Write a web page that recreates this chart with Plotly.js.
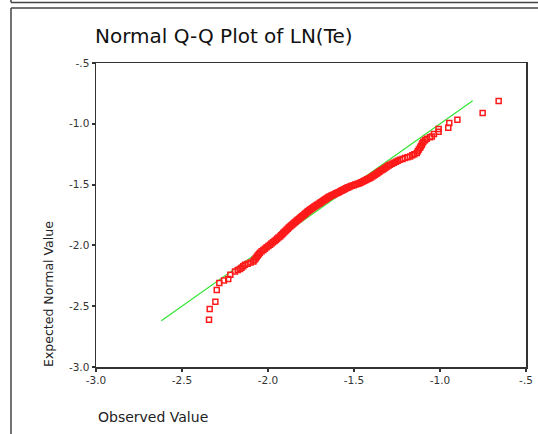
<!DOCTYPE html>
<html>
<head>
<meta charset="utf-8">
<script src="https://cdn.plot.ly/plotly-3.0.1.min.js"></script>
<style>
  html, body { margin: 0; padding: 0; background: #ffffff; }
  #chart { width: 538px; height: 434px; }
</style>
</head>
<body>
<div id="chart"></div>
<script>
// Observed values of LN(Te) (x) and their expected normal values (y)
const observed = [
  -2.343, -2.339, -2.306, -2.298, -2.283, -2.256, -2.231, -2.219,
  -2.192, -2.176, -2.163, -2.154, -2.144, -2.134, -2.118, -2.101, -2.085, -2.079,
  -2.072, -2.066, -2.060, -2.053, -2.047, -2.037, -2.027, -2.018, -2.008, -1.998,
  -1.988, -1.980, -1.971, -1.962, -1.954, -1.947, -1.939, -1.930, -1.924, -1.917,
  -1.911, -1.905, -1.898, -1.892, -1.885, -1.879, -1.872, -1.865, -1.858, -1.852,
  -1.845, -1.838, -1.832, -1.826, -1.820, -1.814, -1.808, -1.802, -1.796, -1.790,
  -1.785, -1.779, -1.773, -1.767, -1.761, -1.756, -1.750, -1.743, -1.737, -1.731,
  -1.724, -1.718, -1.712, -1.704, -1.698, -1.692, -1.685, -1.679, -1.672, -1.666,
  -1.659, -1.653, -1.647, -1.640, -1.633, -1.625, -1.618, -1.610, -1.603, -1.596,
  -1.589, -1.581, -1.574, -1.567, -1.560, -1.553, -1.546, -1.539, -1.532, -1.523,
  -1.513, -1.502, -1.492, -1.482, -1.473, -1.465, -1.457, -1.448, -1.440, -1.431,
  -1.423, -1.416, -1.407, -1.400, -1.392, -1.385, -1.378, -1.370, -1.363, -1.355,
  -1.349, -1.341, -1.332, -1.324, -1.316, -1.307, -1.299, -1.291, -1.279, -1.268,
  -1.256, -1.245, -1.233, -1.218, -1.204, -1.189, -1.174, -1.161, -1.149, -1.135,
  -1.129, -1.123, -1.116, -1.111, -1.106, -1.102, -1.097, -1.087, -1.077,
  -1.058, -1.047, -1.035, -1.008, -1.008, -0.952, -0.946, -0.899, -0.752, -0.659
];
const expected = [
  -2.611, -2.523, -2.463, -2.367, -2.309, -2.288, -2.276, -2.241,
  -2.214, -2.203, -2.194, -2.183, -2.171, -2.159, -2.150, -2.141, -2.132, -2.120,
  -2.108, -2.096, -2.084, -2.072, -2.060, -2.049, -2.038, -2.027, -2.016, -2.005,
  -1.994, -1.984, -1.974, -1.964, -1.955, -1.946, -1.936, -1.926, -1.917, -1.908,
  -1.899, -1.890, -1.881, -1.872, -1.863, -1.853, -1.844, -1.836, -1.828, -1.820,
  -1.812, -1.804, -1.796, -1.789, -1.782, -1.775, -1.768, -1.761, -1.754, -1.747,
  -1.740, -1.733, -1.726, -1.719, -1.712, -1.706, -1.700, -1.694, -1.688, -1.682,
  -1.676, -1.670, -1.664, -1.657, -1.651, -1.645, -1.639, -1.633, -1.627, -1.621,
  -1.615, -1.609, -1.603, -1.597, -1.592, -1.587, -1.582, -1.577, -1.572, -1.567,
  -1.562, -1.556, -1.551, -1.546, -1.541, -1.536, -1.531, -1.526, -1.521, -1.515,
  -1.510, -1.505, -1.500, -1.495, -1.491, -1.487, -1.481, -1.475, -1.469, -1.463,
  -1.457, -1.452, -1.446, -1.439, -1.432, -1.425, -1.418, -1.411, -1.404, -1.397,
  -1.391, -1.383, -1.375, -1.367, -1.359, -1.351, -1.343, -1.336, -1.328, -1.320,
  -1.312, -1.304, -1.296, -1.289, -1.282, -1.275, -1.268, -1.259, -1.250, -1.240,
  -1.226, -1.212, -1.197, -1.184, -1.172, -1.160, -1.147, -1.135, -1.123,
  -1.110, -1.104, -1.084, -1.065, -1.043, -1.032, -0.993, -0.966, -0.911, -0.812
];
// Reference line (expected = observed)
const refLineX = [-2.62, -0.81];
const refLineY = [-2.62, -0.81];
// Tick labels
const tickValues = [-3.0, -2.5, -2.0, -1.5, -1.0, -0.5];
const tickLabels = ['-3.0', '-2.5', '-2.0', '-1.5', '-1.0', '-.5'];

const FONT = 'DejaVu Sans, Verdana, sans-serif';

const traces = [
  {
    x: refLineX, y: refLineY, type: 'scatter', mode: 'lines',
    line: { color: '#33e433', width: 1.2 }, hoverinfo: 'skip', showlegend: false
  },
  {
    x: observed, y: expected, type: 'scatter', mode: 'markers',
    marker: { symbol: 'square-open', size: 5, color: '#ff1a1a', line: { width: 1.5, color: '#ff1a1a' } },
    showlegend: false
  }
];

const axisCommon = {
  tickvals: tickValues, ticktext: tickLabels,
  showgrid: false, zeroline: false,
  showline: true, mirror: true, linecolor: '#333333', linewidth: 1.5,
  ticks: 'outside', ticklen: 3, tickwidth: 2, tickcolor: '#333333',
  tickfont: { family: FONT, size: 10.5, color: '#333333' },
  fixedrange: true
};

const layout = {
  width: 538, height: 434,
  paper_bgcolor: '#ffffff', plot_bgcolor: '#ffffff',
  margin: { l: 96, r: 12, t: 63, b: 67 },
  title: {
    text: 'Normal Q-Q Plot of LN(Te)',
    font: { family: FONT, size: 20, color: '#111111' },
    xref: 'container', x: 95 / 538, xanchor: 'left',
    yref: 'container', y: (434 - 36) / 434, yanchor: 'middle'
  },
  xaxis: Object.assign({}, axisCommon, { range: [-3.0, -0.5] }),
  yaxis: Object.assign({}, axisCommon, { range: [-3.0, -0.5] }),
  annotations: [
    {
      text: 'Expected Normal Value', textangle: -90,
      xref: 'paper', yref: 'paper', x: -0.109, y: -0.006,
      xanchor: 'center', yanchor: 'bottom', showarrow: false,
      font: { family: FONT, size: 12.5, color: '#222222' }
    },
    {
      text: 'Observed Value',
      xref: 'paper', yref: 'paper', x: 0.0, y: -0.1645,
      xanchor: 'left', yanchor: 'middle', showarrow: false,
      font: { family: FONT, size: 14, color: '#222222' }
    }
  ],
  shapes: [
    { type: 'line', xref: 'paper', yref: 'paper', x0: -0.1977, x1: 1.04, y0: 1.199, y1: 1.199, line: { color: '#444444', width: 1.5 } },
    { type: 'line', xref: 'paper', yref: 'paper', x0: -0.1977, x1: -0.1977, y0: 1.21, y1: 1.199, line: { color: '#444444', width: 1.5 } },
    { type: 'line', xref: 'paper', yref: 'paper', x0: -0.1977, x1: 1.04, y0: 1.181, y1: 1.181, line: { color: '#444444', width: 1.5 } },
    { type: 'line', xref: 'paper', yref: 'paper', x0: -0.1977, x1: -0.1977, y0: 1.181, y1: -0.23, line: { color: '#444444', width: 1.5 } }
  ]
};

Plotly.newPlot('chart', traces, layout, { displayModeBar: false, staticPlot: true });
</script>
</body>
</html>
